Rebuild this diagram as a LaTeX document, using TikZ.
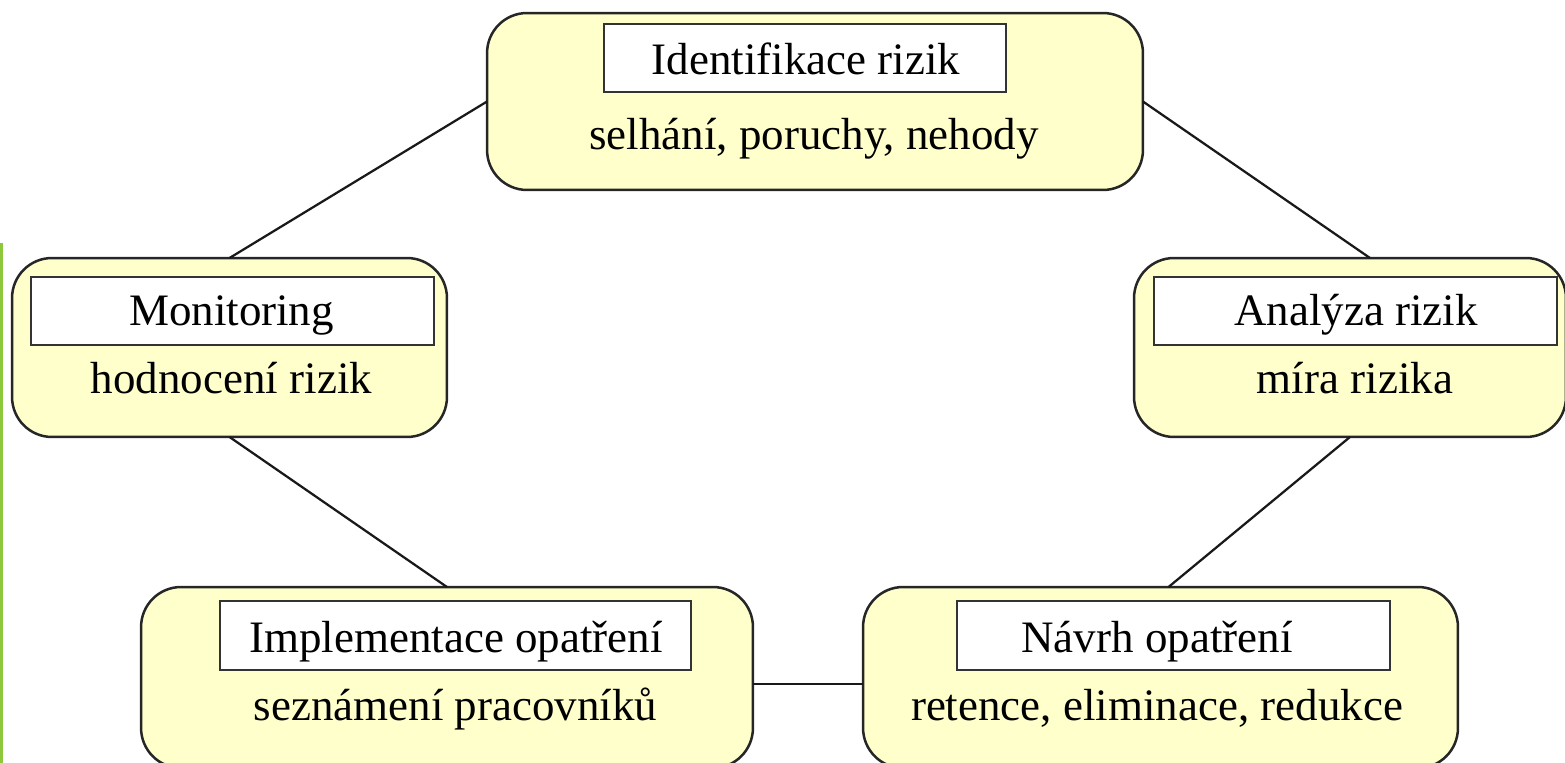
\documentclass[tikz,border=0pt]{standalone}
\usepackage{fontspec}
\setmainfont{Liberation Serif}
\definecolor{boxfill}{RGB}{255,255,204}
\definecolor{edgegreen}{RGB}{140,200,60}
\begin{document}
\begin{tikzpicture}[x=0.02cm,y=-0.02cm,
  outerbox/.style={draw=black!85, line width=0.05cm, fill=boxfill, rounded corners=0.8cm, inner sep=0pt, outer sep=0pt},
  titlebox/.style={draw=black!80, line width=0.045cm, fill=white, inner sep=0pt, outer sep=0pt},
  txt/.style={font=\fontsize{25.6}{30}\selectfont, anchor=base, inner sep=0pt},
  link/.style={draw=black!90, line width=0.045cm}]
\useasboundingbox (0,0) rectangle (1565,763);
\fill[edgegreen] (0,243) rectangle (3,763);

% boxes
\node[outerbox, minimum width=13.12cm, minimum height=3.54cm] (id) at (815,101.5) {};
\node[titlebox, minimum width=8.04cm, minimum height=1.36cm] (idt) at (805,58) {};
\node[txt] (idtt) at (806,75) {Identifikace rizik};
\node[txt] (ids) at (814,150) {selhání, poruchy, nehody};

\node[outerbox, minimum width=8.70cm, minimum height=3.58cm] (mon) at (229.5,347.5) {};
\node[titlebox, minimum width=8.06cm, minimum height=1.36cm] (mont) at (232.5,311) {};
\node[txt] (montt) at (231.5,326) {Monitoring};
\node[txt] (mons) at (231.5,394) {hodnocení rizik};

\node[outerbox, minimum width=8.64cm, minimum height=3.58cm] (an) at (1350,347.5) {};
\node[titlebox, minimum width=8.06cm, minimum height=1.36cm] (ant) at (1355.5,311) {};
\node[txt] (antt) at (1356,326) {Analýza rizik};
\node[txt] (ans) at (1355,394) {míra rizika};

\node[outerbox, minimum width=12.24cm, minimum height=3.62cm] (impl) at (447,677.5) {};
\node[titlebox, minimum width=9.42cm, minimum height=1.38cm] (implt) at (455.5,635.5) {};
\node[txt] (impltt) at (456,652) {Implementace opatření};
\node[txt] (impls) at (455.5,720) {seznámení pracovníků};

\node[outerbox, minimum width=11.9cm, minimum height=3.62cm] (nav) at (1160.5,677.5) {};
\node[titlebox, minimum width=8.66cm, minimum height=1.38cm] (navt) at (1173.5,635.5) {};
\node[txt] (navtt) at (1157,652) {Návrh opatření};
\node[txt] (navs) at (1157,720) {retence, eliminace, redukce};

% connectors
\draw[link] (id.west) -- (mon.north);
\draw[link] (id.east) -- ([xshift=0.4cm]an.north);
\draw[link] (mon.south) -- (impl.north);
\draw[link] (an.south) -- ([xshift=0.16cm]nav.north);
\draw[link] ([yshift=-0.13cm]impl.east) -- ([yshift=-0.13cm]nav.west);
\end{tikzpicture}
\end{document}
